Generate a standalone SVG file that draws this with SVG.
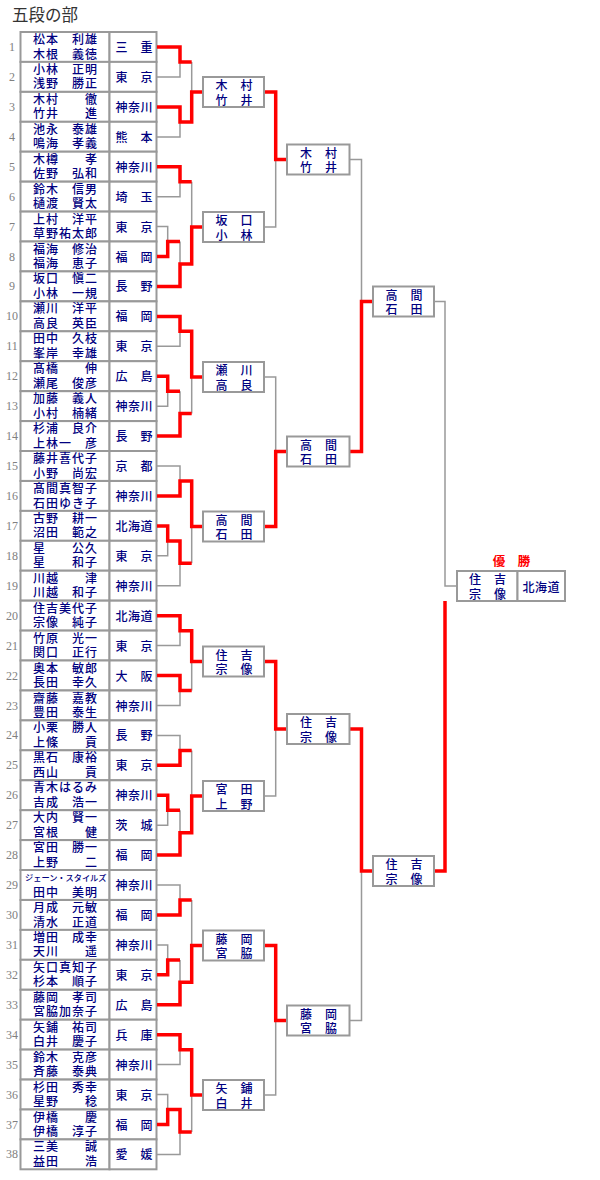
<svg xmlns="http://www.w3.org/2000/svg" width="600" height="1180" viewBox="0 0 600 1180">
<style>
.cell{fill:#fff;stroke:#999;stroke-width:2}
.nm{font-family:"Liberation Sans","Noto Sans CJK JP",sans-serif;font-size:12px;font-weight:500;letter-spacing:1px;fill:#000080}
.sm{font-size:8.2px;letter-spacing:0}
.pf{font-family:"Liberation Sans","Noto Sans CJK JP",sans-serif;font-size:12px;font-weight:500;letter-spacing:0.5px;fill:#000080}
.no{font-family:"Liberation Serif",serif;font-size:12px;fill:#808080;text-anchor:middle}
.bx{fill:#fff;stroke:#999;stroke-width:2}
.g{fill:none;stroke:#999;stroke-width:1.5}
.r{fill:none;stroke:#f00;stroke-width:3.5}
.ttl{font-family:"Liberation Serif","Noto Sans CJK JP",serif;font-size:16.5px;fill:#333}
.win{font-family:"Liberation Sans","Noto Sans CJK JP",sans-serif;font-size:12.5px;font-weight:bold;fill:#f00}
</style>
<rect width="600" height="1180" fill="#fff"/>
<text class="ttl" x="12" y="21">五段の部</text>

<g id="table">
<g id="p1"><rect class="cell" x="20.5" y="32" width="89" height="29.9"/><rect class="cell" x="109.5" y="32" width="47" height="29.9"/><text class="no" x="12" y="51">1</text><text class="nm"><tspan x="33" y="44">松本　利雄</tspan><tspan x="33" y="58.5">木根　義徳</tspan></text><text class="pf" x="115.5" y="52">三　重</text></g>
<g id="p2"><rect class="cell" x="20.5" y="61.9" width="89" height="29.9"/><rect class="cell" x="109.5" y="61.9" width="47" height="29.9"/><text class="no" x="12" y="80.9">2</text><text class="nm"><tspan x="33" y="73.9">小林　正明</tspan><tspan x="33" y="88.4">浅野　勝正</tspan></text><text class="pf" x="115.5" y="81.9">東　京</text></g>
<g id="p3"><rect class="cell" x="20.5" y="91.9" width="89" height="29.9"/><rect class="cell" x="109.5" y="91.9" width="47" height="29.9"/><text class="no" x="12" y="110.9">3</text><text class="nm"><tspan x="33" y="103.9">木村　　徹</tspan><tspan x="33" y="118.4">竹井　　進</tspan></text><text class="pf" x="115.5" y="111.9">神奈川</text></g>
<g id="p4"><rect class="cell" x="20.5" y="121.8" width="89" height="29.9"/><rect class="cell" x="109.5" y="121.8" width="47" height="29.9"/><text class="no" x="12" y="140.8">4</text><text class="nm"><tspan x="33" y="133.8">池永　泰雄</tspan><tspan x="33" y="148.3">鳴海　孝義</tspan></text><text class="pf" x="115.5" y="141.8">熊　本</text></g>
<g id="p5"><rect class="cell" x="20.5" y="151.7" width="89" height="29.9"/><rect class="cell" x="109.5" y="151.7" width="47" height="29.9"/><text class="no" x="12" y="170.7">5</text><text class="nm"><tspan x="33" y="163.7">木樽　　孝</tspan><tspan x="33" y="178.2">佐野　弘和</tspan></text><text class="pf" x="115.5" y="171.7">神奈川</text></g>
<g id="p6"><rect class="cell" x="20.5" y="181.7" width="89" height="29.9"/><rect class="cell" x="109.5" y="181.7" width="47" height="29.9"/><text class="no" x="12" y="200.7">6</text><text class="nm"><tspan x="33" y="193.7">鈴木　信男</tspan><tspan x="33" y="208.2">樋渡　賢太</tspan></text><text class="pf" x="115.5" y="201.7">埼　玉</text></g>
<g id="p7"><rect class="cell" x="20.5" y="211.6" width="89" height="29.9"/><rect class="cell" x="109.5" y="211.6" width="47" height="29.9"/><text class="no" x="12" y="230.6">7</text><text class="nm"><tspan x="33" y="223.6">上村　洋平</tspan><tspan x="33" y="238.1">草野祐太郎</tspan></text><text class="pf" x="115.5" y="231.6">東　京</text></g>
<g id="p8"><rect class="cell" x="20.5" y="241.5" width="89" height="29.9"/><rect class="cell" x="109.5" y="241.5" width="47" height="29.9"/><text class="no" x="12" y="260.5">8</text><text class="nm"><tspan x="33" y="253.5">福海　修治</tspan><tspan x="33" y="268">福海　恵子</tspan></text><text class="pf" x="115.5" y="261.5">福　岡</text></g>
<g id="p9"><rect class="cell" x="20.5" y="271.4" width="89" height="29.9"/><rect class="cell" x="109.5" y="271.4" width="47" height="29.9"/><text class="no" x="12" y="290.4">9</text><text class="nm"><tspan x="33" y="283.4">坂口　愼二</tspan><tspan x="33" y="297.9">小林　一規</tspan></text><text class="pf" x="115.5" y="291.4">長　野</text></g>
<g id="p10"><rect class="cell" x="20.5" y="301.4" width="89" height="29.9"/><rect class="cell" x="109.5" y="301.4" width="47" height="29.9"/><text class="no" x="12" y="320.4">10</text><text class="nm"><tspan x="33" y="313.4">瀬川　洋平</tspan><tspan x="33" y="327.9">高良　英臣</tspan></text><text class="pf" x="115.5" y="321.4">福　岡</text></g>
<g id="p11"><rect class="cell" x="20.5" y="331.3" width="89" height="29.9"/><rect class="cell" x="109.5" y="331.3" width="47" height="29.9"/><text class="no" x="12" y="350.3">11</text><text class="nm"><tspan x="33" y="343.3">田中　久枝</tspan><tspan x="33" y="357.8">峯岸　幸雄</tspan></text><text class="pf" x="115.5" y="351.3">東　京</text></g>
<g id="p12"><rect class="cell" x="20.5" y="361.2" width="89" height="29.9"/><rect class="cell" x="109.5" y="361.2" width="47" height="29.9"/><text class="no" x="12" y="380.2">12</text><text class="nm"><tspan x="33" y="373.2">髙橋　　伸</tspan><tspan x="33" y="387.7">瀬尾　俊彦</tspan></text><text class="pf" x="115.5" y="381.2">広　島</text></g>
<g id="p13"><rect class="cell" x="20.5" y="391.2" width="89" height="29.9"/><rect class="cell" x="109.5" y="391.2" width="47" height="29.9"/><text class="no" x="12" y="410.2">13</text><text class="nm"><tspan x="33" y="403.2">加藤　義人</tspan><tspan x="33" y="417.7">小村　楠緒</tspan></text><text class="pf" x="115.5" y="411.2">神奈川</text></g>
<g id="p14"><rect class="cell" x="20.5" y="421.1" width="89" height="29.9"/><rect class="cell" x="109.5" y="421.1" width="47" height="29.9"/><text class="no" x="12" y="440.1">14</text><text class="nm"><tspan x="33" y="433.1">杉浦　良介</tspan><tspan x="33" y="447.6">上林一　彦</tspan></text><text class="pf" x="115.5" y="441.1">長　野</text></g>
<g id="p15"><rect class="cell" x="20.5" y="451" width="89" height="29.9"/><rect class="cell" x="109.5" y="451" width="47" height="29.9"/><text class="no" x="12" y="470">15</text><text class="nm"><tspan x="33" y="463">藤井喜代子</tspan><tspan x="33" y="477.5">小野　尚宏</tspan></text><text class="pf" x="115.5" y="471">京　都</text></g>
<g id="p16"><rect class="cell" x="20.5" y="481" width="89" height="29.9"/><rect class="cell" x="109.5" y="481" width="47" height="29.9"/><text class="no" x="12" y="500">16</text><text class="nm"><tspan x="33" y="493">髙間真智子</tspan><tspan x="33" y="507.5">石田ゆき子</tspan></text><text class="pf" x="115.5" y="501">神奈川</text></g>
<g id="p17"><rect class="cell" x="20.5" y="510.9" width="89" height="29.9"/><rect class="cell" x="109.5" y="510.9" width="47" height="29.9"/><text class="no" x="12" y="529.9">17</text><text class="nm"><tspan x="33" y="522.9">古野　耕一</tspan><tspan x="33" y="537.4">沼田　範之</tspan></text><text class="pf" x="115.5" y="530.9">北海道</text></g>
<g id="p18"><rect class="cell" x="20.5" y="540.8" width="89" height="29.9"/><rect class="cell" x="109.5" y="540.8" width="47" height="29.9"/><text class="no" x="12" y="559.8">18</text><text class="nm"><tspan x="33" y="552.8">星　　公久</tspan><tspan x="33" y="567.3">星　　和子</tspan></text><text class="pf" x="115.5" y="560.8">東　京</text></g>
<g id="p19"><rect class="cell" x="20.5" y="570.7" width="89" height="29.9"/><rect class="cell" x="109.5" y="570.7" width="47" height="29.9"/><text class="no" x="12" y="589.7">19</text><text class="nm"><tspan x="33" y="582.7">川越　　津</tspan><tspan x="33" y="597.2">川越　和子</tspan></text><text class="pf" x="115.5" y="590.7">神奈川</text></g>
<g id="p20"><rect class="cell" x="20.5" y="600.7" width="89" height="29.9"/><rect class="cell" x="109.5" y="600.7" width="47" height="29.9"/><text class="no" x="12" y="619.7">20</text><text class="nm"><tspan x="33" y="612.7">住吉美代子</tspan><tspan x="33" y="627.2">宗像　純子</tspan></text><text class="pf" x="115.5" y="620.7">北海道</text></g>
<g id="p21"><rect class="cell" x="20.5" y="630.6" width="89" height="29.9"/><rect class="cell" x="109.5" y="630.6" width="47" height="29.9"/><text class="no" x="12" y="649.6">21</text><text class="nm"><tspan x="33" y="642.6">竹原　光一</tspan><tspan x="33" y="657.1">関口　正行</tspan></text><text class="pf" x="115.5" y="650.6">東　京</text></g>
<g id="p22"><rect class="cell" x="20.5" y="660.5" width="89" height="29.9"/><rect class="cell" x="109.5" y="660.5" width="47" height="29.9"/><text class="no" x="12" y="679.5">22</text><text class="nm"><tspan x="33" y="672.5">奥本　敏郎</tspan><tspan x="33" y="687">長田　幸久</tspan></text><text class="pf" x="115.5" y="680.5">大　阪</text></g>
<g id="p23"><rect class="cell" x="20.5" y="690.5" width="89" height="29.9"/><rect class="cell" x="109.5" y="690.5" width="47" height="29.9"/><text class="no" x="12" y="709.5">23</text><text class="nm"><tspan x="33" y="702.5">齋藤　嘉教</tspan><tspan x="33" y="717">豊田　泰生</tspan></text><text class="pf" x="115.5" y="710.5">神奈川</text></g>
<g id="p24"><rect class="cell" x="20.5" y="720.4" width="89" height="29.9"/><rect class="cell" x="109.5" y="720.4" width="47" height="29.9"/><text class="no" x="12" y="739.4">24</text><text class="nm"><tspan x="33" y="732.4">小栗　勝人</tspan><tspan x="33" y="746.9">上條　　貢</tspan></text><text class="pf" x="115.5" y="740.4">長　野</text></g>
<g id="p25"><rect class="cell" x="20.5" y="750.3" width="89" height="29.9"/><rect class="cell" x="109.5" y="750.3" width="47" height="29.9"/><text class="no" x="12" y="769.3">25</text><text class="nm"><tspan x="33" y="762.3">黒石　康裕</tspan><tspan x="33" y="776.8">西山　　貢</tspan></text><text class="pf" x="115.5" y="770.3">東　京</text></g>
<g id="p26"><rect class="cell" x="20.5" y="780.3" width="89" height="29.9"/><rect class="cell" x="109.5" y="780.3" width="47" height="29.9"/><text class="no" x="12" y="799.3">26</text><text class="nm"><tspan x="33" y="792.3">青木はるみ</tspan><tspan x="33" y="806.8">吉成　浩一</tspan></text><text class="pf" x="115.5" y="800.3">神奈川</text></g>
<g id="p27"><rect class="cell" x="20.5" y="810.2" width="89" height="29.9"/><rect class="cell" x="109.5" y="810.2" width="47" height="29.9"/><text class="no" x="12" y="829.2">27</text><text class="nm"><tspan x="33" y="822.2">大内　賢一</tspan><tspan x="33" y="836.7">宮根　　健</tspan></text><text class="pf" x="115.5" y="830.2">茨　城</text></g>
<g id="p28"><rect class="cell" x="20.5" y="840.1" width="89" height="29.9"/><rect class="cell" x="109.5" y="840.1" width="47" height="29.9"/><text class="no" x="12" y="859.1">28</text><text class="nm"><tspan x="33" y="852.1">宮田　勝一</tspan><tspan x="33" y="866.6">上野　　二</tspan></text><text class="pf" x="115.5" y="860.1">福　岡</text></g>
<g id="p29"><rect class="cell" x="20.5" y="870" width="89" height="29.9"/><rect class="cell" x="109.5" y="870" width="47" height="29.9"/><text class="no" x="12" y="889">29</text><text class="nm"><tspan class="sm" x="25" y="881">ジェーン・スタイルズ</tspan><tspan x="33" y="896.5">田中　美明</tspan></text><text class="pf" x="115.5" y="890">神奈川</text></g>
<g id="p30"><rect class="cell" x="20.5" y="900" width="89" height="29.9"/><rect class="cell" x="109.5" y="900" width="47" height="29.9"/><text class="no" x="12" y="919">30</text><text class="nm"><tspan x="33" y="912">月成　元敏</tspan><tspan x="33" y="926.5">清水　正道</tspan></text><text class="pf" x="115.5" y="920">福　岡</text></g>
<g id="p31"><rect class="cell" x="20.5" y="929.9" width="89" height="29.9"/><rect class="cell" x="109.5" y="929.9" width="47" height="29.9"/><text class="no" x="12" y="948.9">31</text><text class="nm"><tspan x="33" y="941.9">増田　成幸</tspan><tspan x="33" y="956.4">天川　　遥</tspan></text><text class="pf" x="115.5" y="949.9">神奈川</text></g>
<g id="p32"><rect class="cell" x="20.5" y="959.8" width="89" height="29.9"/><rect class="cell" x="109.5" y="959.8" width="47" height="29.9"/><text class="no" x="12" y="978.8">32</text><text class="nm"><tspan x="33" y="971.8">矢口真知子</tspan><tspan x="33" y="986.3">杉本　順子</tspan></text><text class="pf" x="115.5" y="979.8">東　京</text></g>
<g id="p33"><rect class="cell" x="20.5" y="989.8" width="89" height="29.9"/><rect class="cell" x="109.5" y="989.8" width="47" height="29.9"/><text class="no" x="12" y="1008.8">33</text><text class="nm"><tspan x="33" y="1001.8">藤岡　孝司</tspan><tspan x="33" y="1016.3">宮脇加奈子</tspan></text><text class="pf" x="115.5" y="1009.8">広　島</text></g>
<g id="p34"><rect class="cell" x="20.5" y="1019.7" width="89" height="29.9"/><rect class="cell" x="109.5" y="1019.7" width="47" height="29.9"/><text class="no" x="12" y="1038.7">34</text><text class="nm"><tspan x="33" y="1031.7">矢鋪　祐司</tspan><tspan x="33" y="1046.2">白井　慶子</tspan></text><text class="pf" x="115.5" y="1039.7">兵　庫</text></g>
<g id="p35"><rect class="cell" x="20.5" y="1049.6" width="89" height="29.9"/><rect class="cell" x="109.5" y="1049.6" width="47" height="29.9"/><text class="no" x="12" y="1068.6">35</text><text class="nm"><tspan x="33" y="1061.6">鈴木　克彦</tspan><tspan x="33" y="1076.1">斉藤　泰典</tspan></text><text class="pf" x="115.5" y="1069.6">神奈川</text></g>
<g id="p36"><rect class="cell" x="20.5" y="1079.6" width="89" height="29.9"/><rect class="cell" x="109.5" y="1079.6" width="47" height="29.9"/><text class="no" x="12" y="1098.6">36</text><text class="nm"><tspan x="33" y="1091.6">杉田　秀幸</tspan><tspan x="33" y="1106.1">星野　　稔</tspan></text><text class="pf" x="115.5" y="1099.6">東　京</text></g>
<g id="p37"><rect class="cell" x="20.5" y="1109.5" width="89" height="29.9"/><rect class="cell" x="109.5" y="1109.5" width="47" height="29.9"/><text class="no" x="12" y="1128.5">37</text><text class="nm"><tspan x="33" y="1121.5">伊橋　　慶</tspan><tspan x="33" y="1136">伊橋　淳子</tspan></text><text class="pf" x="115.5" y="1129.5">福　岡</text></g>
<g id="p38"><rect class="cell" x="20.5" y="1139.4" width="89" height="29.9"/><rect class="cell" x="109.5" y="1139.4" width="47" height="29.9"/><text class="no" x="12" y="1158.4">38</text><text class="nm"><tspan x="33" y="1151.4">三美　　誠</tspan><tspan x="33" y="1165.9">益田　　浩</tspan></text><text class="pf" x="115.5" y="1159.4">愛　媛</text></g>
</g>

<g id="connectors">
<path class="g" d="M157 77H180V62M157 137H180V122M191.7 62V92
M157 196.7H180V181.7M157 226.6H167.7V241.5M180 241.5V264M191.7 181.7V227
M157 346.3H180V331.3M157 406.2H167.7V391.2M180 391.2V413.6M191.7 377V413.6
M157 466H180V481M157 555.8H167.7V540.9M157 585.7H180V563.3M191.7 526.5V563.3
M157 645.6H180V630.7M157 705.5H180V690.5M191.7 690.5V661.5
M157 735.4H180V750.4M157 825.2H167.7V810.3M180 810.3V832.7M191.7 750.4V796
M157 885H180V900M157 944.9H167.7V959.9M180 959.9V982.3M191.7 900V945.5
M157 1064.6H180V1049.7M157 1094.6H167.7V1109.6M157 1154.4H180V1132M191.7 1095V1132
M264 227H275.7V159.5M264 377H275.7V451.5M264 796H275.7V729M264 1095H275.7V1020.5
M349.5 159.5H361.5V301.5M349.5 1020.5H361.5V871
M434 301.5H445V586H457"/>
<path class="r" d="M157 47H180V62H191.7
M157 106.9H180V121.9H191.7V92H203
M157 166.7H180V181.7H191.7
M157 256.5H167.7V241.5H180
M157 286.4H180V264H191.7V227H203
M157 316.4H180V331.3H191.7V377H203
M157 376.2H167.7V391.2H180
M157 436.1H180V413.6H191.7
M157 496H180V481H191.7V526.5H203
M157 525.9H167.7V540.9H180V563.3H191.7
M157 615.7H180V630.7H191.7V661.5H203
M157 675.5H180V690.5H191.7
M157 765.3H180V750.4H191.7
M157 795.3H167.7V810.3H180
M157 855.1H180V832.7H191.7V796H203
M157 915H180V900H191.7
M157 974.8H167.7V959.9H180
M157 1004.8H180V982.3H191.7V945.5H203
M157 1034.7H180V1049.7H191.7V1095H203
M157 1124.5H167.7V1109.6H180V1132H191.7
M264 92H275.7V159.5H287
M264 526.5H275.7V451.5H287
M264 661.5H275.7V729H287
M264 945.5H275.7V1020.5H287
M349.5 451.5H361.5V301.5H373
M349.5 729H361.5V871H373
M434 871H445V601"/>
</g>

<g id="r2a"><rect class="bx" x="203" y="77" width="61" height="30"/><text class="pf"><tspan x="215.5" y="90">木　村</tspan><tspan x="215.5" y="104.5">竹　井</tspan></text></g>
<g id="r2b"><rect class="bx" x="203" y="212" width="61" height="30"/><text class="pf"><tspan x="215.5" y="225">坂　口</tspan><tspan x="215.5" y="239.5">小　林</tspan></text></g>
<g id="r2c"><rect class="bx" x="203" y="362" width="61" height="30"/><text class="pf"><tspan x="215.5" y="375">瀬　川</tspan><tspan x="215.5" y="389.5">高　良</tspan></text></g>
<g id="r2d"><rect class="bx" x="203" y="511.5" width="61" height="30"/><text class="pf"><tspan x="215.5" y="524.5">高　間</tspan><tspan x="215.5" y="539">石　田</tspan></text></g>
<g id="r2e"><rect class="bx" x="203" y="646.5" width="61" height="30"/><text class="pf"><tspan x="215.5" y="659.5">住　吉</tspan><tspan x="215.5" y="674">宗　像</tspan></text></g>
<g id="r2f"><rect class="bx" x="203" y="781" width="61" height="30"/><text class="pf"><tspan x="215.5" y="794">宮　田</tspan><tspan x="215.5" y="808.5">上　野</tspan></text></g>
<g id="r2g"><rect class="bx" x="203" y="930.5" width="61" height="30"/><text class="pf"><tspan x="215.5" y="943.5">藤　岡</tspan><tspan x="215.5" y="958">宮　脇</tspan></text></g>
<g id="r2h"><rect class="bx" x="203" y="1080" width="61" height="30"/><text class="pf"><tspan x="215.5" y="1093">矢　鋪</tspan><tspan x="215.5" y="1107.5">白　井</tspan></text></g>

<g id="r3a"><rect class="bx" x="287" y="144.5" width="62.5" height="30"/><text class="pf"><tspan x="300" y="157.5">木　村</tspan><tspan x="300" y="172">竹　井</tspan></text></g>
<g id="r3b"><rect class="bx" x="287" y="436.5" width="62.5" height="30"/><text class="pf"><tspan x="300" y="449.5">高　間</tspan><tspan x="300" y="464">石　田</tspan></text></g>
<g id="r3c"><rect class="bx" x="287" y="714" width="62.5" height="30"/><text class="pf"><tspan x="300" y="727">住　吉</tspan><tspan x="300" y="741.5">宗　像</tspan></text></g>
<g id="r3d"><rect class="bx" x="287" y="1005.5" width="62.5" height="30"/><text class="pf"><tspan x="300" y="1018.5">藤　岡</tspan><tspan x="300" y="1033">宮　脇</tspan></text></g>

<g id="r4a"><rect class="bx" x="373" y="286.5" width="61" height="30"/><text class="pf"><tspan x="385.5" y="299.5">高　間</tspan><tspan x="385.5" y="314">石　田</tspan></text></g>
<g id="r4b"><rect class="bx" x="373" y="856" width="61" height="30"/><text class="pf"><tspan x="385.5" y="869">住　吉</tspan><tspan x="385.5" y="883.5">宗　像</tspan></text></g>

<g id="champion">
<text class="win" x="492.7" y="566">優　勝</text>
<rect class="bx" x="457" y="571" width="60.5" height="30"/>
<rect class="bx" x="517.5" y="571" width="47.5" height="30"/>
<text class="pf"><tspan x="469" y="584">住　吉</tspan><tspan x="469" y="598.5">宗　像</tspan></text>
<text class="pf" x="522.5" y="591.5">北海道</text>
</g>
</svg>
